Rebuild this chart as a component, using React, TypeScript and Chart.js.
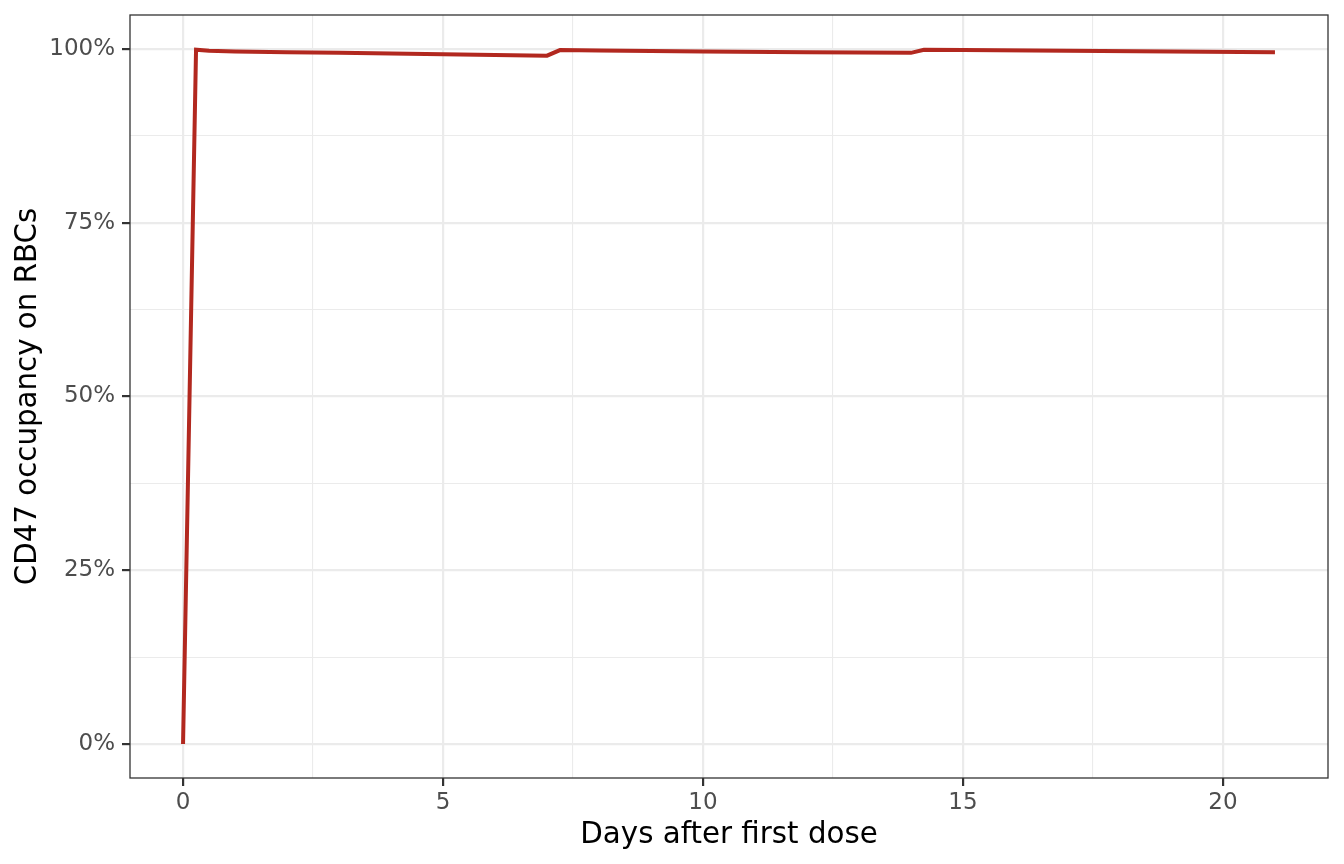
import React, { useEffect, useRef } from 'react';
import { Chart, registerables } from 'chart.js';

Chart.register(...registerables);

// days after first dose and CD47 occupancy (%)
const days = [0, 0.25, 0.5, 1, 2, 3, 4, 5, 6, 7, 7.25, 8, 10, 12, 14, 14.25, 15, 17, 19, 21];
const occupancy = [0, 99.9, 99.75, 99.65, 99.55, 99.45, 99.35, 99.25, 99.15, 99.05, 99.85, 99.8, 99.65, 99.55, 99.45, 99.9, 99.85, 99.75, 99.65, 99.55];

const xMajorTicks = [0, 5, 10, 15, 20];
const yMajorTicks = [0, 25, 50, 75, 100];

const FONT = '"DejaVu Sans", Verdana, sans-serif';

const isMajor = (v: number, list: number[]) => list.some((m) => Math.abs(m - v) < 1e-6);

const panelBorder = {
    id: 'panelBorder',
    afterDatasetsDraw(chart: Chart) {
        const { ctx, chartArea } = chart;
        ctx.save();
        ctx.strokeStyle = '#333333';
        ctx.lineWidth = 1.3;
        ctx.strokeRect(chartArea.left, chartArea.top, chartArea.right - chartArea.left, chartArea.bottom - chartArea.top);
        ctx.restore();
    },
};

// fixed axis sizes so the panel sits where it does in the reference
const fixSize = (dim: 'width' | 'height', size: number) => (s: any) => {
    s[dim] = size;
    s.paddingTop = 0;
    s.paddingBottom = 0;
    s.paddingLeft = 0;
    s.paddingRight = 0;
};

const App = () => {
    const chartRef = useRef<HTMLCanvasElement | null>(null);

    useEffect(() => {
        document.body.style.margin = '0';
        const ctx = chartRef.current?.getContext('2d');
        if (!ctx) return;

        const gridStyle = (list: number[]) => ({
            color: '#EBEBEB',
            lineWidth: (c: any) => (isMajor(c.tick?.value, list) ? 2.2 : 1.1),
            tickColor: (c: any) => (isMajor(c.tick?.value, list) ? '#333333' : 'rgba(0,0,0,0)'),
            tickWidth: 2.2,
            tickLength: 8,
            drawTicks: true,
        });

        const chart = new Chart(ctx, {
            type: 'line',
            data: {
                datasets: [{
                    data: days.map((d, i) => ({ x: d, y: occupancy[i] })),
                    borderColor: '#B2281F',
                    borderWidth: 4,
                    pointRadius: 0,
                    tension: 0,
                    fill: false,
                }],
            },
            options: {
                animation: false,
                responsive: true,
                maintainAspectRatio: false,
                layout: { padding: { top: 15, right: 16, left: 0, bottom: 0 } },
                plugins: { legend: { display: false }, tooltip: { enabled: false } },
                scales: {
                    x: {
                        type: 'linear',
                        min: -1.02,
                        max: 22.02,
                        afterFit: fixSize('height', 86),
                        border: { display: false },
                        grid: gridStyle(xMajorTicks),
                        ticks: {
                            stepSize: 2.5,
                            includeBounds: false,
                            autoSkip: false,
                            maxRotation: 0,
                            padding: 3,
                            color: '#4D4D4D',
                            font: { family: FONT, size: 23 },
                            callback: (v: any) => (isMajor(Number(v), xMajorTicks) ? String(v) : ''),
                        },
                        title: {
                            display: true,
                            text: 'Days after first dose',
                            color: '#000000',
                            font: { family: FONT, size: 29.3 },
                            padding: { top: 0, bottom: 11 },
                        },
                    },
                    y: {
                        type: 'linear',
                        min: -4.9,
                        max: 104.9,
                        afterFit: fixSize('width', 130),
                        border: { display: false },
                        grid: gridStyle(yMajorTicks),
                        ticks: {
                            stepSize: 12.5,
                            includeBounds: false,
                            autoSkip: false,
                            padding: 7,
                            color: '#4D4D4D',
                            font: { family: FONT, size: 23 },
                            callback: (v: any) => (isMajor(Number(v), yMajorTicks) ? `${v}%` : ''),
                        },
                        title: {
                            display: true,
                            text: 'CD47 occupancy on RBCs',
                            color: '#000000',
                            font: { family: FONT, size: 29.3 },
                            padding: { top: 11, bottom: 0 },
                        },
                    },
                },
            },
            plugins: [panelBorder],
        });

        return () => {
            chart.destroy();
        };
    }, []);

    return (
        <div style={{ position: 'relative', width: 1344, height: 864, background: '#FFFFFF' }}>
            <canvas ref={chartRef}></canvas>
        </div>
    );
};

export default App;
